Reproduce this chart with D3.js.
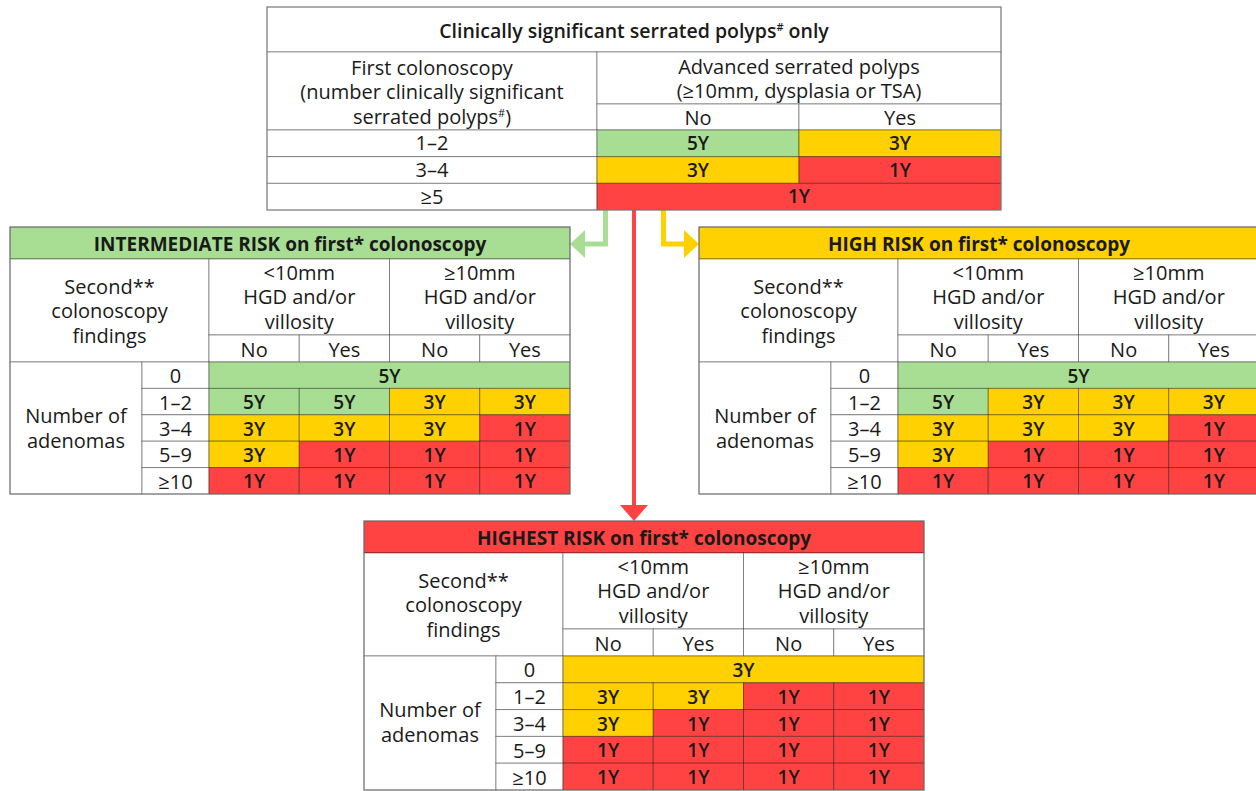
<!DOCTYPE html>
<html>
<head>
<meta charset="utf-8">
<script src="https://cdn.jsdelivr.net/npm/d3@7"></script>
<style>
  body { margin: 0; background: #fff; }
  svg text { font-family: "Open Sans", Lato, sans-serif; fill: #1a1a1a; }
</style>
</head>
<body>
<script>
// data
var topTitle = "Clinically significant serrated polyps";
var topRowLabels = ["1–2", "3–4", "≥5"];
var topColLabels = ["No", "Yes"];
var topValues = [["5Y", "3Y"], ["3Y", "1Y"], ["1Y"]];   // last row spans both columns

var rowLabels = ["0", "1–2", "3–4", "5–9", "≥10"];
var groupLabels = [["<10mm", "HGD and/or", "villosity"], ["≥10mm", "HGD and/or", "villosity"]];
var subLabels = ["No", "Yes", "No", "Yes"];

var intermediateValues = [["5Y"], ["5Y", "5Y", "3Y", "3Y"], ["3Y", "3Y", "3Y", "1Y"], ["3Y", "1Y", "1Y", "1Y"], ["1Y", "1Y", "1Y", "1Y"]];
var highValues = [["5Y"], ["5Y", "3Y", "3Y", "3Y"], ["3Y", "3Y", "3Y", "1Y"], ["3Y", "1Y", "1Y", "1Y"], ["1Y", "1Y", "1Y", "1Y"]];
var highestValues = [["3Y"], ["3Y", "3Y", "1Y", "1Y"], ["3Y", "1Y", "1Y", "1Y"], ["1Y", "1Y", "1Y", "1Y"], ["1Y", "1Y", "1Y", "1Y"]];

var intervals = ["5Y", "3Y", "1Y"];
var colour = d3.scaleOrdinal().domain(intervals).range(["#a8de93", "#ffd100", "#ff4343"]);

var width = 1256, height = 791;
var svg = d3.select("body").append("svg").attr("width", width).attr("height", height);

var lineCol = "rgba(0,0,0,0.38)";
var bodySize = 20;

function cell(g, x, y, w, h, fill){
    g.append("rect").attr("x", x).attr("y", y).attr("width", w).attr("height", h)
        .attr("fill", fill || "#fff").attr("stroke", lineCol).attr("stroke-width", 1);
}
function label(g, x, y, lines, opts){
    opts = opts || {};
    var lh = opts.lh || 24.5;
    var t = g.append("text").attr("x", x).attr("text-anchor", "middle")
        .attr("font-size", opts.size || bodySize).attr("font-weight", opts.weight || 400);
    lines.forEach(function(l, i){
        t.append("tspan").attr("x", x)
            .attr("y", y + (i - (lines.length - 1) / 2) * lh)
            .attr("dy", "0.35em").text(l);
    });
    return t;
}

// top table
function drawTop(){
    var x0 = 267, y0 = 7, w = 734;
    var g = svg.append("g");
    var left = 330;
    var colX = d3.scaleBand().domain(topColLabels).range([x0 + left, x0 + w]);
    var rowY = d3.scaleBand().domain(topRowLabels).range([130, 210]);

    cell(g, x0, y0, w, 45);
    var tt = g.append("text").attr("x", x0 + w / 2).attr("y", y0 + 24).attr("dy", "0.35em")
        .attr("text-anchor", "middle").attr("font-size", 19.5).attr("font-weight", 600);
    tt.append("tspan").text(topTitle);
    tt.append("tspan").attr("font-size", 11).attr("dy", -7).text("#");
    tt.append("tspan").attr("dy", 7).text(" only");

    cell(g, x0, 52, left, 78);
    var t2 = label(g, x0 + left / 2, 92, ["First colonoscopy", "(number clinically significant", "serrated polyps"]);
    t2.append("tspan").attr("font-size", 11).attr("dy", -7).text("#");
    t2.append("tspan").attr("dy", 7).text(")");

    cell(g, x0 + left, 52, w - left, 52);
    label(g, x0 + left + (w - left) / 2, 79, ["Advanced serrated polyps", "(≥10mm, dysplasia or TSA)"]);
    topColLabels.forEach(function(c){
        cell(g, colX(c), 104, colX.bandwidth(), 26);
        label(g, colX(c) + colX.bandwidth() / 2, 118, [c]);
    });
    topRowLabels.forEach(function(r, i){
        cell(g, x0, rowY(r), left, rowY.bandwidth());
        label(g, x0 + left / 2, rowY(r) + rowY.bandwidth() / 2, [r]);
        var vals = topValues[i];
        vals.forEach(function(v, j){
            var cx = colX(topColLabels[j]);
            var cw = vals.length === 1 ? w - left : colX.bandwidth();
            cell(g, cx, rowY(r), cw, rowY.bandwidth(), colour(v));
            label(g, cx + cw / 2, rowY(r) + rowY.bandwidth() / 2, [v], {weight: 600, size: 19});
        });
    });
    g.append("rect").attr("x", x0).attr("y", y0).attr("width", w).attr("height", 210 - y0)
        .attr("fill", "none").attr("stroke", "#888").attr("stroke-width", 1);
}

// risk table
function drawRisk(x0, y0, title, fill, values, bodyH){
    var g = svg.append("g");
    var w = 560, titleH = 32, headH = 103, subH = 27;
    var labW = 132, rowLabW = 67;
    var dataX = x0 + labW + rowLabW;
    var colX = d3.scaleBand().domain(d3.range(4)).range([dataX, x0 + w]);
    var top = y0 + titleH + headH;
    var rowY = d3.scaleBand().domain(rowLabels).range([top, top + bodyH]);

    cell(g, x0, y0, w, titleH, fill);
    g.append("text").attr("x", x0 + w / 2).attr("y", y0 + titleH / 2 + 1).attr("dy", "0.35em")
        .attr("text-anchor", "middle").attr("font-size", 19).attr("font-weight", 700)
        .text(title);

    var hy = y0 + titleH;
    cell(g, x0, hy, labW + rowLabW, headH);
    label(g, x0 + (labW + rowLabW) / 2, hy + 52, ["Second**", "colonoscopy", "findings"]);
    groupLabels.forEach(function(gl, k){
        var gx = colX(k * 2), gw = colX.bandwidth() * 2;
        cell(g, gx, hy, gw, headH - subH);
        label(g, gx + gw / 2, hy + 38, gl);
    });
    subLabels.forEach(function(s, k){
        cell(g, colX(k), hy + headH - subH, colX.bandwidth(), subH);
        label(g, colX(k) + colX.bandwidth() / 2, hy + headH - subH / 2 + 1, [s]);
    });
    cell(g, x0, top, labW, bodyH);
    label(g, x0 + labW / 2, top + 66, ["Number of", "adenomas"], {lh: 25});
    rowLabels.forEach(function(r, i){
        cell(g, x0 + labW, rowY(r), rowLabW, rowY.bandwidth());
        label(g, x0 + labW + rowLabW / 2, rowY(r) + rowY.bandwidth() / 2 + 1, [r]);
        var vals = values[i];
        vals.forEach(function(v, j){
            var cw = vals.length === 1 ? colX.bandwidth() * 4 : colX.bandwidth();
            cell(g, colX(j), rowY(r), cw, rowY.bandwidth(), colour(v));
            label(g, colX(j) + cw / 2, rowY(r) + rowY.bandwidth() / 2 + 1, [v], {weight: 600, size: 19});
        });
    });
    g.append("rect").attr("x", x0).attr("y", y0).attr("width", w).attr("height", titleH + headH + bodyH)
        .attr("fill", "none").attr("stroke", "#777").attr("stroke-width", 1);
}

// connectors
var arrows = svg.append("g");
arrows.append("path").attr("d", "M605.5,210 V244 H582").attr("fill", "none")
    .attr("stroke", colour("5Y")).attr("stroke-width", 5);
arrows.append("path").attr("d", "M570,244 L585,230 L585,258 Z").attr("fill", colour("5Y"));
arrows.append("path").attr("d", "M663.5,210 V244 H686").attr("fill", "none")
    .attr("stroke", colour("3Y")).attr("stroke-width", 5);
arrows.append("path").attr("d", "M699,244 L684,230 L684,258 Z").attr("fill", colour("3Y"));
arrows.append("path").attr("d", "M634,210 V507").attr("fill", "none")
    .attr("stroke", colour("1Y")).attr("stroke-width", 4);
arrows.append("path").attr("d", "M634,521 L620,505 L648,505 Z").attr("fill", colour("1Y"));

drawTop();
drawRisk(10, 227, "INTERMEDIATE RISK on first* colonoscopy", colour("5Y"), intermediateValues, 132);
drawRisk(699, 227, "HIGH RISK on first* colonoscopy", colour("3Y"), highValues, 132);
drawRisk(364, 521, "HIGHEST RISK on first* colonoscopy", colour("1Y"), highestValues, 134);
</script>
</body>
</html>
